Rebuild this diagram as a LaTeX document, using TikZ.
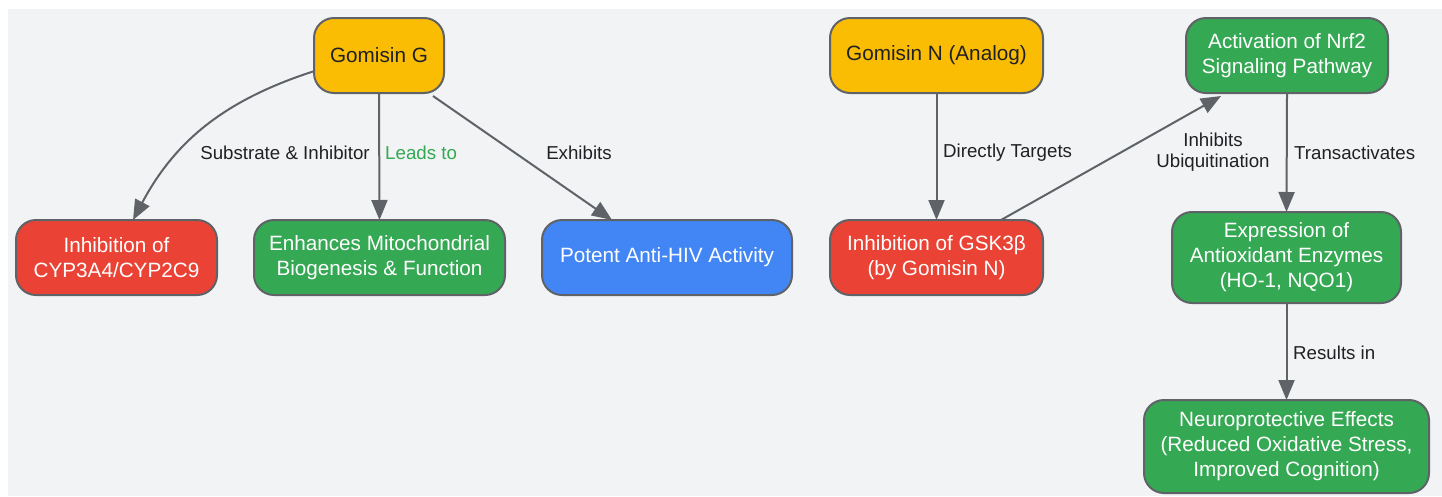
\documentclass[tikz,border=0pt]{standalone}
\usepackage{fontspec}
\setmainfont{Liberation Sans}
\usetikzlibrary{arrows.meta}
\definecolor{bgc}{HTML}{F1F3F4}
\definecolor{edgec}{HTML}{5F6368}
\definecolor{txtc}{HTML}{202124}
\definecolor{yel}{HTML}{FBBC04}
\definecolor{red}{HTML}{EA4335}
\definecolor{grn}{HTML}{34A853}
\definecolor{blu}{HTML}{4285F4}
\tikzset{
  box/.style={draw=edgec, line width=2pt, rounded corners=20pt, inner sep=0pt, align=center,
    font=\fontsize{20.7}{25}\selectfont, text=white},
  ybox/.style={box, fill=yel, text=txtc},
  rbox/.style={box, fill=red},
  gbox/.style={box, fill=grn},
  bbox/.style={box, fill=blu},
  conn/.style={draw=edgec, line width=2pt, -{Triangle[length=20pt,width=16pt]}},
  lab/.style={inner sep=0pt, align=center, font=\fontsize{18.7}{21}\selectfont, text=txtc},
}
\begin{document}
\begin{tikzpicture}[x=1pt,y=-1pt]
\useasboundingbox (0,0) rectangle (1442,496);
\fill[bgc] (8,9) rectangle (1442,496);
% nodes
\node[ybox, minimum width=130pt, minimum height=75pt] (g) at (379,55.5) {Gomisin G};
\node[rbox, minimum width=201pt, minimum height=75pt] (cyp) at (116.5,257.5) {Inhibition of\\CYP3A4/CYP2C9};
\node[gbox, minimum width=251pt, minimum height=75pt] (enh) at (379.5,257.5) {Enhances Mitochondrial\\Biogenesis \& Function};
\node[bbox, minimum width=250pt, minimum height=75pt] (hiv) at (667,257.5) {Potent Anti-HIV Activity};
\node[ybox, minimum width=213pt, minimum height=75pt] (gn) at (936.5,55.5) {Gomisin N (Analog)};
\node[rbox, minimum width=213pt, minimum height=75pt] (gsk) at (936.5,257.5) {Inhibition of GSK3β\\(by Gomisin N)};
\node[gbox, minimum width=202pt, minimum height=75pt] (act) at (1287,55.5) {Activation of Nrf2\\Signaling Pathway};
\node[gbox, minimum width=229pt, minimum height=91pt] (expr) at (1286.5,257.5) {Expression of\\Antioxidant Enzymes\\(HO-1, NQO1)};
\node[gbox, minimum width=285pt, minimum height=93pt] (neuro) at (1286.5,446.5) {Neuroprotective Effects\\(Reduced Oxidative Stress,\\Improved Cognition)};
% connectors
\draw[conn] ([yshift=-16pt]g.west) to[out=198,in=62] ([xshift=16.5pt,yshift=-1pt]cyp.north);
\draw[conn] (g.south) -- ([yshift=-1pt]enh.north);
\draw[conn] ([xshift=-12pt,yshift=-2pt]g.south east) -- ([xshift=-55pt,yshift=-1pt]hiv.north);
\draw[conn] (gn.south) -- ([yshift=-1pt]gsk.north);
\draw[conn] ([xshift=64.5pt,yshift=-1pt]gsk.north) -- ([xshift=-66pt,yshift=-2pt]act.south);
\draw[conn] (act.south) -- ([yshift=-1pt]expr.north);
\draw[conn] (expr.south) -- ([yshift=-1pt]neuro.north);
% labels
\node[lab] (l1) at (285,153) {Substrate \& Inhibitor};
\node[lab, anchor=west, text=grn] (l2) at (385,153) {Leads to};
\node[lab] (l3) at (579,153) {Exhibits};
\node[lab, anchor=west] (l4) at (943,153) {Directly Targets};
\node[lab] (l5) at (1213,152.5) {Inhibits\\Ubiquitination};
\node[lab, anchor=west] (l6) at (1294,153) {Transactivates};
\node[lab, anchor=west] (l7) at (1293,353) {Results in};
\end{tikzpicture}
\end{document}
